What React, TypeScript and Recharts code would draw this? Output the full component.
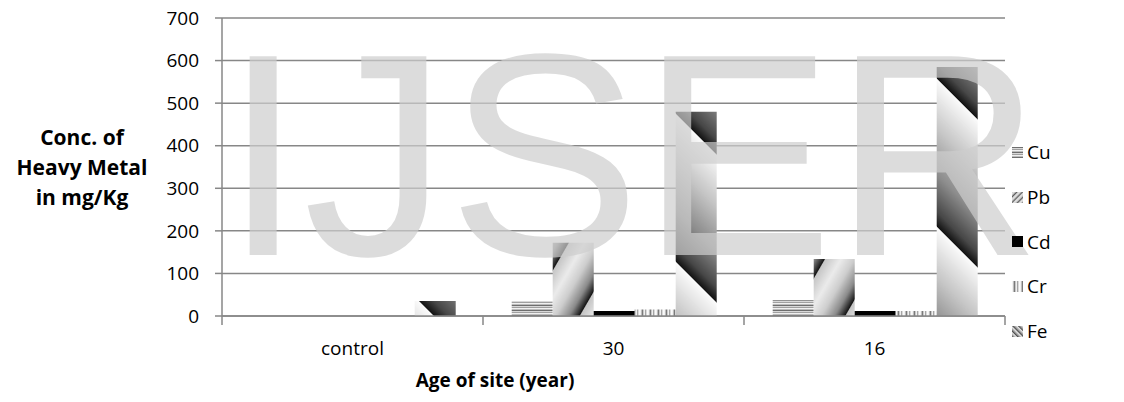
import React from 'react';
import { BarChart, Bar, XAxis, YAxis, CartesianGrid } from 'recharts';

// site age categories and metal concentrations (mg/Kg)
const sites = ['control', '30', '16'];
const metals = ['Cu', 'Pb', 'Cd', 'Cr', 'Fe'];
const cu = [0, 35, 37];
const pb = [0, 172, 134];
const cd = [0, 12, 12];
const cr = [0, 15, 12];
const fe = [35, 480, 585];
const yTicks = [0, 100, 200, 300, 400, 500, 600, 700];

const data = sites.map((site, i) => ({
  site,
  Cu: cu[i],
  Pb: pb[i],
  Cd: cd[i],
  Cr: cr[i],
  Fe: fe[i],
}));

const fills: Record<string, string> = {
  Cu: 'url(#pCu)',
  Pb: 'url(#pPb)',
  Cd: '#000000',
  Cr: 'url(#pCr)',
  Fe: 'url(#pFe)',
};
const iconFills: Record<string, string> = {
  Cu: 'url(#pCu)',
  Pb: 'url(#pPbS)',
  Cd: '#000000',
  Cr: 'url(#pCr)',
  Fe: 'url(#pFeS)',
};

const axisColor = '#878787';
const font = '"Open Sans", "Noto Sans", sans-serif';

const cuRows = ['#6e6e6e', '#d8d8d8', '#a0a0a0', '#f0f0f0', '#bcbcbc'];
const crCols = ['#f2f2f2', '#bdbdbd', '#7a7a7a', '#c8c8c8', '#efefef', '#a5a5a5', '#d9d9d9', '#fafafa'];

const Patterns = () => (
  <svg width={0} height={0} style={{ position: 'absolute', overflow: 'hidden' }}>
    <defs>
      <linearGradient id="gPb" x1="0" y1="0" x2="1" y2="0">
        <stop offset="0" stopColor="#c4c4c4" />
        <stop offset="0.3" stopColor="#ebebeb" />
        <stop offset="0.55" stopColor="#cdcdcd" />
        <stop offset="0.8" stopColor="#8a8a8a" />
        <stop offset="0.95" stopColor="#2e2e2e" />
        <stop offset="1" stopColor="#111111" />
      </linearGradient>
      <linearGradient id="gFe" x1="0" y1="0" x2="1" y2="0">
        <stop offset="0" stopColor="#111111" />
        <stop offset="0.1" stopColor="#474747" />
        <stop offset="0.35" stopColor="#8c8c8c" />
        <stop offset="0.65" stopColor="#c4c4c4" />
        <stop offset="1" stopColor="#fbfbfb" />
      </linearGradient>
      <pattern id="pCu" patternUnits="userSpaceOnUse" width={8} height={cuRows.length}>
        {cuRows.map((c, i) => (
          <rect key={i} x={0} y={i} width={8} height={1} fill={c} />
        ))}
      </pattern>
      <pattern id="pCr" patternUnits="userSpaceOnUse" width={crCols.length} height={8}>
        {crCols.map((c, i) => (
          <rect key={i} x={i} y={0} width={1} height={8} fill={c} />
        ))}
      </pattern>
      <pattern id="pPb" patternUnits="userSpaceOnUse" x={16} width={46} height={46} patternTransform="rotate(30)">
        <rect width={46} height={46} fill="url(#gPb)" />
      </pattern>
      <pattern id="pPbS" patternUnits="userSpaceOnUse" width={4} height={4} patternTransform="rotate(45)">
        <rect width={4} height={4} fill="url(#gPb)" />
      </pattern>
      <pattern id="pFe" patternUnits="userSpaceOnUse" x={83.4} width={104.7} height={104.7} patternTransform="rotate(-45)">
        <rect width={104.7} height={104.7} fill="url(#gFe)" />
      </pattern>
      <pattern id="pFeS" patternUnits="userSpaceOnUse" width={4} height={4} patternTransform="rotate(-45)">
        <rect width={4} height={4} fill="url(#gFe)" />
      </pattern>
    </defs>
  </svg>
);

const SiteTick = (props: any) => {
  const { x, y, payload, index } = props;
  const half = 130.5;
  return (
    <g>
      <line x1={x - half} x2={x - half} y1={y} y2={y + 9} stroke={axisColor} strokeWidth={1.5} />
      {index === sites.length - 1 && (
        <line x1={x + half} x2={x + half} y1={y} y2={y + 9} stroke={axisColor} strokeWidth={1.5} />
      )}
      <text x={x} y={y + 39} textAnchor="middle" fontSize={19} fontFamily={font} fill="#000">
        {payload.value}
      </text>
    </g>
  );
};

const YTitle = () => (
  <text textAnchor="middle" fontSize={21} fontWeight="bold" fontFamily={font} fill="#000">
    <tspan x={82} y={145}>Conc. of</tspan>
    <tspan x={82} y={175}>Heavy Metal</tspan>
    <tspan x={82} y={205}>in mg/Kg</tspan>
  </text>
);

const XTitle = () => (
  <text x={495} y={387} textAnchor="middle" fontSize={19} fontWeight="bold" fontFamily={font} fill="#000">
    Age of site (year)
  </text>
);

const MetalLegend = () => (
  <div style={{ position: 'absolute', left: 1012, top: 130, fontFamily: font, fontSize: 19, color: '#000' }}>
    {metals.map((m) => (
      <div key={m} style={{ height: 44.7, display: 'flex', alignItems: 'center' }}>
        <svg width={11} height={11} style={{ marginRight: 4 }}>
          <rect width={11} height={11} fill={iconFills[m]} />
        </svg>
        <span>{m}</span>
      </div>
    ))}
  </div>
);

export default function App() {
  return (
    <div style={{ position: 'relative', width: 1124, height: 402, background: '#fff' }}>
      <style>{'body{margin:0}'}</style>
      <Patterns />
      <BarChart
        width={1124}
        height={402}
        data={data}
        margin={{ top: 18, right: 119, bottom: 0, left: 0 }}
        barCategoryGap="11%"
        barGap={0}
      >
        <CartesianGrid vertical={false} stroke={axisColor} strokeWidth={1.5} />
        <XAxis
          dataKey="site"
          height={86}
          interval={0}
          tickLine={false}
          tickSize={0}
          tickMargin={0}
          axisLine={{ stroke: axisColor, strokeWidth: 1.5 }}
          tick={<SiteTick />}
          label={<XTitle />}
        />
        <YAxis
          width={222}
          domain={[0, 700]}
          ticks={yTicks}
          interval={0}
          tickSize={7}
          tickMargin={16}
          axisLine={{ stroke: axisColor, strokeWidth: 1.5 }}
          tickLine={{ stroke: axisColor, strokeWidth: 1.5 }}
          tick={{ fontSize: 19, fontFamily: font, fill: '#000' }}
          label={<YTitle />}
        />
        {metals.map((m) => (
          <Bar key={m} dataKey={m} fill={fills[m]} isAnimationActive={false} />
        ))}
      </BarChart>
      <svg
        width={1124}
        height={402}
        style={{ position: 'absolute', left: 0, top: 0, pointerEvents: 'none' }}
      >
        <text x={223} y={255} fontSize={289} fontFamily='"Liberation Sans", Arial, sans-serif' fill="#cdcdcd" fillOpacity={0.7}>
          IJSER
        </text>
      </svg>
      <MetalLegend />
    </div>
  );
}
